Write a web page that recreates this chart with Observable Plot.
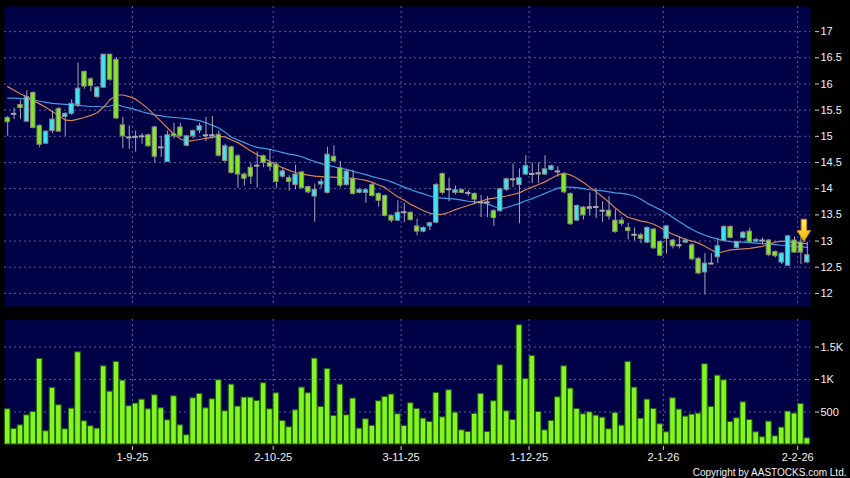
<!DOCTYPE html>
<html>
<head>
<meta charset="utf-8">
<script src="https://cdn.jsdelivr.net/npm/d3@7"></script>
<script src="https://cdn.jsdelivr.net/npm/@observablehq/plot@0.6"></script>
<style>
  html, body { margin: 0; padding: 0; background: #000; }
  #chart { width: 850px; height: 478px; background: #000; overflow: hidden; }
  #chart svg { display: block; }
</style>
</head>
<body>
<div id="chart"></div>
<script>
// ---- data ----
const open = [15.35,15.43,15.60,15.28,15.83,15.20,14.86,15.10,15.52,15.37,
15.43,15.60,16.23,16.09,15.75,15.93,16.56,16.46,15.21,14.98,
14.99,15.00,15.02,15.17,14.79,14.51,15.04,15.17,14.82,15.00,
15.11,15.02,15.02,15.03,14.53,14.79,14.62,14.27,14.40,14.44,
14.62,14.49,14.46,14.23,14.20,14.07,14.31,14.03,13.85,14.08,
13.92,14.61,14.39,14.07,14.19,13.92,13.92,14.07,13.90,13.86,
13.48,13.39,13.55,13.54,13.28,13.18,13.28,13.35,14.28,13.99,
13.92,13.97,13.92,13.90,13.74,13.74,13.57,13.57,13.98,14.18,
14.07,14.27,14.28,14.27,14.27,14.36,14.33,14.28,13.90,13.39,
13.64,13.61,13.65,13.58,13.58,13.39,13.39,13.25,13.12,13.11,
12.97,13.22,12.98,13.04,13.01,12.92,12.97,12.92,12.66,12.40,
12.57,12.69,13.00,13.27,12.87,13.06,13.18,12.99,13.01,13.01,
12.79,12.59,12.53,13.01,12.97,12.59];
const close = [15.27,15.43,15.54,15.75,15.16,14.84,15.09,15.32,15.09,15.43,
15.62,15.91,15.95,15.96,15.93,16.56,16.08,15.34,15.00,14.98,
14.99,15.00,14.81,14.61,14.79,15.02,15.00,15.00,15.00,15.10,
15.19,15.02,15.02,14.63,14.81,14.30,14.27,14.19,14.23,14.44,
14.49,14.42,14.13,14.33,14.13,14.27,14.01,13.93,13.98,14.13,
14.65,14.52,14.06,14.33,13.90,13.98,13.97,13.86,13.77,13.48,
13.39,13.54,13.55,13.40,13.18,13.25,13.34,14.07,13.92,13.99,
13.97,13.92,13.92,13.79,13.74,13.74,13.44,13.99,14.18,14.18,
14.20,14.43,14.28,14.30,14.37,14.43,14.33,13.93,13.32,13.67,
13.49,13.65,13.65,13.58,13.47,13.17,13.33,13.19,13.12,13.04,
13.25,12.86,12.72,13.28,12.90,12.92,13.01,12.65,12.38,12.57,
12.57,12.90,13.27,13.06,12.98,13.16,12.98,13.02,13.01,12.73,
12.71,12.76,13.09,12.78,12.78,12.73];
const high = [15.38,15.54,15.68,15.87,15.85,15.22,15.10,15.49,15.55,15.45,
15.70,16.40,16.25,16.12,15.95,16.56,16.56,16.50,15.36,15.20,
15.10,15.05,15.04,15.19,15.00,15.10,15.25,15.25,15.02,15.12,
15.25,15.36,15.38,15.10,14.85,14.81,14.65,14.30,14.48,14.70,
14.64,14.75,14.50,14.40,14.25,14.45,14.33,14.05,14.09,14.18,
14.79,14.82,14.52,14.35,14.35,14.00,14.00,14.10,13.92,13.88,
13.50,13.77,13.72,13.56,13.42,13.27,13.36,14.10,14.30,14.20,
14.05,14.00,13.97,13.92,13.87,13.85,13.60,14.01,14.20,14.47,
14.38,14.63,14.49,14.49,14.63,14.45,14.42,14.30,13.92,13.69,
13.66,13.92,14.00,13.75,13.85,13.60,13.45,13.34,13.25,13.15,
13.27,13.24,13.00,13.30,13.03,13.08,13.05,12.95,12.68,12.76,
12.76,13.05,13.29,13.29,13.00,13.18,13.24,13.05,13.06,13.03,
12.81,12.78,13.11,13.08,13.09,12.98];
const low = [15.00,15.32,15.32,15.28,15.14,14.78,14.85,15.05,15.08,15.00,
15.40,15.55,15.90,15.85,15.72,15.92,16.05,15.32,14.76,14.75,
14.70,14.85,14.79,14.50,14.60,14.50,14.95,14.98,14.80,14.95,
15.05,14.90,14.95,14.60,14.50,14.28,14.01,14.05,14.08,14.01,
14.40,14.33,14.01,14.20,13.95,13.98,13.99,13.90,13.36,14.00,
13.90,14.50,14.02,14.05,13.88,13.90,13.72,13.84,13.65,13.46,
13.35,13.37,13.35,13.38,13.10,13.16,13.20,13.33,13.88,13.75,
13.88,13.90,13.85,13.70,13.45,13.45,13.28,13.55,13.95,14.02,
13.33,14.25,14.10,14.10,14.25,14.34,14.22,13.90,13.30,13.37,
13.40,13.48,13.43,13.35,13.40,13.15,13.28,13.02,13.00,12.95,
12.95,12.84,12.70,12.75,12.85,12.85,12.95,12.62,12.36,11.97,
12.55,12.57,12.98,13.04,12.85,13.04,12.96,12.97,12.93,12.70,
12.68,12.55,12.51,12.76,12.55,12.57];
const maShort = [15.95,15.88,15.81,15.76,15.68,15.62,15.55,15.47,15.40,15.31,
15.30,15.33,15.36,15.40,15.45,15.56,15.70,15.79,15.79,15.76,
15.71,15.62,15.52,15.40,15.28,15.16,15.04,14.95,14.91,14.92,
14.94,14.96,14.98,15.00,14.99,14.93,14.88,14.80,14.72,14.65,
14.58,14.52,14.45,14.40,14.35,14.31,14.28,14.26,14.24,14.23,
14.22,14.22,14.21,14.20,14.20,14.18,14.16,14.12,14.07,14.02,
13.93,13.84,13.78,13.70,13.64,13.58,13.53,13.51,13.51,13.55,
13.60,13.64,13.68,13.72,13.76,13.80,13.82,13.84,13.86,13.89,
13.92,13.98,14.03,14.08,14.13,14.20,14.26,14.30,14.26,14.20,
14.12,14.03,13.94,13.84,13.74,13.63,13.53,13.45,13.42,13.38,
13.36,13.32,13.26,13.18,13.13,13.08,13.03,13.00,12.96,12.90,
12.83,12.77,12.80,12.83,12.84,12.85,12.86,12.88,12.90,12.94,
12.98,13.00,12.99,12.97,12.96,12.95];
const maLong = [15.73,15.73,15.72,15.71,15.69,15.67,15.65,15.63,15.62,15.61,
15.60,15.59,15.58,15.57,15.57,15.56,15.58,15.61,15.57,15.54,
15.51,15.47,15.44,15.41,15.39,15.37,15.36,15.35,15.34,15.32,
15.30,15.26,15.21,15.16,15.08,14.98,14.93,14.88,14.83,14.79,
14.77,14.75,14.72,14.69,14.66,14.64,14.61,14.56,14.52,14.48,
14.45,14.42,14.39,14.37,14.33,14.30,14.27,14.23,14.20,14.17,
14.13,14.08,14.03,13.98,13.94,13.90,13.86,13.83,13.82,13.81,
13.80,13.78,13.76,13.75,13.74,13.71,13.66,13.62,13.64,13.68,
13.72,13.77,13.81,13.86,13.91,13.96,14.01,14.03,14.03,14.02,
14.00,13.98,13.97,13.96,13.94,13.92,13.91,13.89,13.86,13.80,
13.72,13.66,13.60,13.53,13.45,13.37,13.29,13.22,13.16,13.11,
13.07,13.04,13.01,12.99,12.98,12.98,12.97,12.96,12.95,12.94,
12.93,12.92,12.91,12.90,12.89,12.88];
const volume = [542,239,295,449,500,1316,203,870,603,234,
552,1418,357,280,244,1203,813,1270,982,588,
629,690,542,757,557,372,742,295,142,711,
778,557,696,988,511,921,583,721,721,670,
942,542,788,362,265,526,875,788,1321,577,
1162,439,921,449,706,244,388,285,665,732,
768,465,285,634,547,398,347,793,418,834,
490,218,193,470,778,193,665,1218,511,377,
1834,1008,1362,500,218,362,726,1203,860,547,
465,495,444,413,234,485,290,1270,875,398,
690,547,311,188,711,537,429,459,475,1234,
577,1059,988,347,403,649,377,188,111,352,
126,260,506,475,624,95];
const dateIndex = [20, 42, 62, 82, 103, 124];           // bar on which each month label falls
const dateLabels = ["1-9-25", "2-10-25", "3-11-25", "1-12-25", "2-1-26", "2-2-26"];
const priceTicks = [12, 12.5, 13, 13.5, 14, 14.5, 15, 15.5, 16, 16.5, 17];
const volumeTicks = [500, 1000, 1500];
const volumeTickLabels = ["500", "1K", "1.5K"];
const markerBar = 124;   // bar carrying the yellow arrow
const markerPrice = 12.99;

// ---- build ----
const N = open.length;
const bars = d3.range(N).map(i => ({i, o: open[i], h: high[i], l: low[i], c: close[i], ms: maShort[i], ml: maLong[i], v: volume[i]}));
const upBars = bars.filter(d => d.c > d.o);
const downBars = bars.filter(d => d.c < d.o);
const dojiBars = bars.filter(d => d.c === d.o);
const gridX = dateIndex.map(d => d - 0.5);

const NAVY = "#000046";
const GRID = "#5e5e9c";
const CYAN = "#3fe3f2";
const GREEN = "#82e82a";
const FONT = "'Liberation Sans', Arial, sans-serif";
const xDomain = [-0.5, N - 0.5];

const blockArrow = {
  draw(ctx, l) {
    const hw = 2.7, hh = 6.6, head = l * 0.5;
    ctx.moveTo(-hw, 0);
    ctx.lineTo(-hw, -(l - head));
    ctx.lineTo(-hh, -(l - head));
    ctx.lineTo(0, -l);
    ctx.lineTo(hh, -(l - head));
    ctx.lineTo(hw, -(l - head));
    ctx.lineTo(hw, 0);
    ctx.closePath();
  }
};

const price = Plot.plot({
  width: 850, height: 312,
  marginTop: 6, marginBottom: 6, marginLeft: 4, marginRight: 40,
  style: {background: "transparent", color: "#e8e8e8", fontFamily: FONT, fontSize: "11px"},
  x: {domain: xDomain, axis: null, label: null},
  y: {domain: [11.75, 17.48], axis: null, label: null},
  marks: [
    Plot.frame({fill: NAVY, stroke: null}),
    Plot.ruleY(priceTicks, {stroke: GRID, strokeDasharray: "2,3"}),
    Plot.ruleX(gridX, {stroke: GRID, strokeDasharray: "2,3"}),
    Plot.axisY(priceTicks, {anchor: "right", label: null, tickSize: 4, dx: 4, tickPadding: 2, tickFormat: d => String(d), fill: "#f0f0f0", stroke: "#d0d0d0"}),
    Plot.line(bars, {x: "i", y: "ml", stroke: "#3f9fe4", strokeWidth: 1.2}),
    Plot.line(bars, {x: "i", y: "ms", stroke: "#d9824e", strokeWidth: 1.2}),
    Plot.ruleX(bars, {x: "i", y1: "l", y2: "h", stroke: "#a6a6b4", strokeWidth: 1}),
    Plot.rect(upBars, {x1: d => d.i - 0.5, x2: d => d.i + 0.5, y1: "o", y2: "c", insetLeft: 1, insetRight: 1, fill: CYAN, stroke: "#8a8a8a", strokeWidth: 1}),
    Plot.rect(downBars, {x1: d => d.i - 0.5, x2: d => d.i + 0.5, y1: "o", y2: "c", insetLeft: 1, insetRight: 1, fill: GREEN, stroke: "#8a8a7a", strokeWidth: 1}),
    Plot.ruleY(dojiBars, {y: "c", x1: d => d.i - 0.5, x2: d => d.i + 0.5, insetLeft: 0.5, insetRight: 0.5, stroke: "#a8a8a8", strokeWidth: 2}),
    Plot.vector([{i: markerBar, y: markerPrice}], {x: "i", y: "y", length: 22, rotate: 180, anchor: "end", shape: blockArrow, dx: 3, fill: "url(#arrowGrad)", stroke: "#d08a10", strokeWidth: 1})
  ]
});

// gradient for the marker arrow (tip deeper yellow, tail lighter)
const ns = "http://www.w3.org/2000/svg";
const defs = document.createElementNS(ns, "defs");
const grad = document.createElementNS(ns, "linearGradient");
grad.setAttribute("id", "arrowGrad");
grad.setAttribute("x1", "0"); grad.setAttribute("y1", "0");
grad.setAttribute("x2", "0"); grad.setAttribute("y2", "1");
[["0", "#f2b400"], ["1", "#fff06a"]].forEach(([o, c]) => {
  const s = document.createElementNS(ns, "stop");
  s.setAttribute("offset", o); s.setAttribute("stop-color", c);
  grad.appendChild(s);
});
defs.appendChild(grad);
price.insertBefore(defs, price.firstChild);

const vol = Plot.plot({
  width: 850, height: 166,
  marginTop: 7, marginBottom: 34, marginLeft: 4, marginRight: 40,
  style: {background: "transparent", color: "#e8e8e8", fontFamily: FONT, fontSize: "11px"},
  x: {domain: xDomain, axis: null, label: null},
  y: {domain: [0, 1923], axis: null, label: null},
  marks: [
    Plot.frame({fill: NAVY, stroke: null}),
    Plot.ruleY(volumeTicks, {stroke: GRID, strokeDasharray: "2,3"}),
    Plot.ruleX(gridX, {stroke: GRID, strokeDasharray: "2,3"}),
    Plot.rect(bars, {x1: d => d.i - 0.5, x2: d => d.i + 0.5, y1: 0, y2: "v", insetLeft: 0.4, insetRight: 0.4, fill: "#82f522", stroke: "#24600c", strokeWidth: 1}),
    Plot.axisY(volumeTicks, {anchor: "right", label: null, tickSize: 4, dx: 4, tickPadding: 2, tickFormat: (d, i) => volumeTickLabels[i], fill: "#f0f0f0", stroke: "#d0d0d0"}),
    Plot.axisX(gridX, {anchor: "bottom", label: null, tickSize: 4, dy: 2, tickPadding: 3, tickFormat: (d, i) => dateLabels[i], fill: "#f0f0f0", stroke: "#d0d0d0"}),
    Plot.text(["Copyright by AASTOCKS.com Ltd."], {frameAnchor: "bottom-right", dx: 36, dy: 28, textAnchor: "end", lineAnchor: "middle", fontSize: 10, fill: "#f0f0f0", style: "letter-spacing:0.3px"})
  ]
});

const root = document.getElementById("chart");
root.appendChild(price);
root.appendChild(vol);
</script>
</body>
</html>
